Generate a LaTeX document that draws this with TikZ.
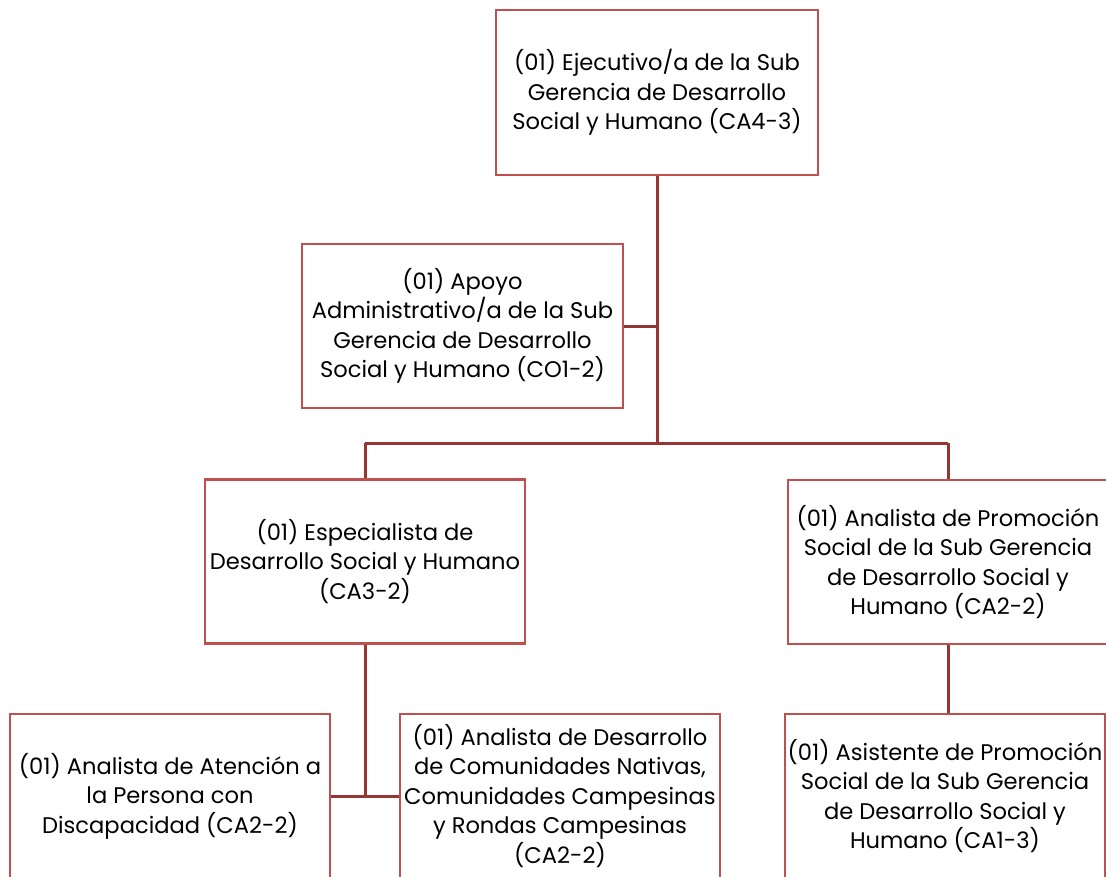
\documentclass[tikz,border=0pt]{standalone}
\usepackage{fontspec}
\setmainfont{Poppins}
\definecolor{boxred}{HTML}{C0504D}
\definecolor{linered}{HTML}{943634}
\begin{document}
\begin{tikzpicture}[x=1pt,y=-1pt,
  unit/.style={draw=boxred, line width=2.8pt, fill=white, minimum width=320pt,
    minimum height=164pt, inner sep=0pt, align=center, text=black,
    font=\fontsize{22.6}{29.5}\selectfont},
  link/.style={draw=linered, line width=3pt}]
\useasboundingbox (0,0) rectangle (1106,876);
\clip (0,0) rectangle (1106,876);
\fill[white] (0,0) rectangle (1106,876);

% junction points of the connectors
\coordinate (trunk) at (657,443);
\coordinate (apoyoJ) at (657,326);
\coordinate (leftJ) at (365,443);
\coordinate (rightJ) at (948,443);
\coordinate (espJ) at (365,797);

\node[unit, minimum width=322pt, minimum height=165pt] (ejec) at (657,92.5)
  {(01) Ejecutivo/a de la Sub\\Gerencia de Desarrollo\\Social y Humano (CA4-3)};
\node[unit, minimum width=321pt] (apoyo) at (462.5,326)
  {(01) Apoyo\\Administrativo/a de la Sub\\Gerencia de Desarrollo\\Social y Humano (CO1-2)};
\node[unit] (esp) at (365,561.5)
  {(01) Especialista de\\Desarrollo Social y Humano\\(CA3-2)};
\node[unit] (promo) at (948,562)
  {(01) Analista de Promoción\\Social de la Sub Gerencia\\de Desarrollo Social y\\Humano (CA2-2)};
\node[unit] (aten) at (170,796)
  {(01) Analista de Atención a\\la Persona con\\Discapacidad (CA2-2)};
\node[unit] (comu) at (560,796)
  {(01) Analista de Desarrollo\\de Comunidades Nativas,\\Comunidades Campesinas\\y Rondas Campesinas\\(CA2-2)};
\node[unit] (asis) at (945,796)
  {(01) Asistente de Promoción\\Social de la Sub Gerencia\\de Desarrollo Social y\\Humano (CA1-3)};

\draw[link] (ejec.south) -- (trunk);
\draw[link] (apoyo.east) -- (apoyoJ);
\draw[link] (leftJ) -- (rightJ);
\draw[link] (leftJ) -- (esp.north);
\draw[link] (rightJ) -- (promo.north);
\draw[link] (esp.south) -- (espJ);
\draw[link] (aten.east) -- (comu.west);
\draw[link] (promo.south) -- (promo.south |- asis.north);
\end{tikzpicture}
\end{document}
